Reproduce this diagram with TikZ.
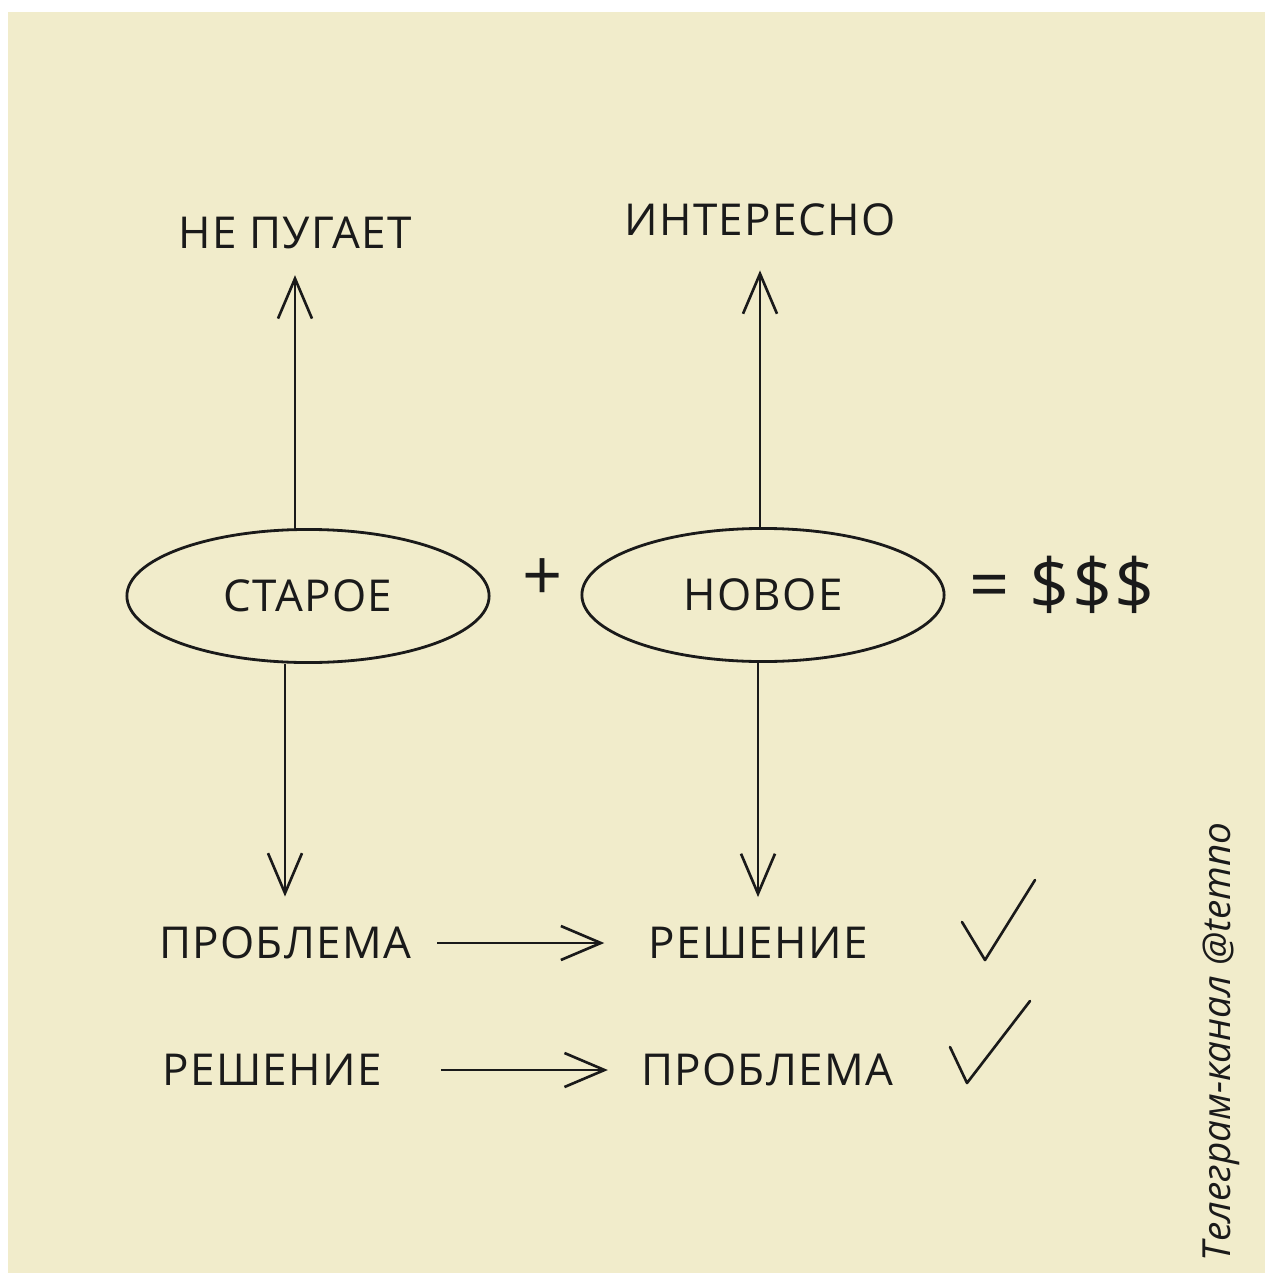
\documentclass[tikz,border=0pt]{standalone}
\usepackage{fontspec}
\setmainfont{Open Sans}
\newfontfamily\handfont[LetterSpace=3]{Open Sans}
\usetikzlibrary{shapes.geometric,arrows.meta,positioning}
\definecolor{paper}{RGB}{241,236,203}
\definecolor{ink}{RGB}{26,26,26}
\tikzset{
  word/.style={font=\handfont\fontsize{12.5}{12.5}\selectfont, text=ink, inner sep=1pt},
  oval/.style={draw=ink, ellipse, line width=0.8pt, minimum width=3.62cm,
    minimum height=1.33cm, font=\handfont\fontsize{12.5}{12.5}\selectfont, text=ink},
  barb/.style={draw=ink, line width=0.75pt, -{Straight Barb[length=4mm,width=3.4mm]}},
  tick/.style={draw=ink, line width=0.75pt, line join=round, line cap=round},
}
\begin{document}
\begin{tikzpicture}[x=0.01cm,y=-0.01cm]
\useasboundingbox (0,0) rectangle (1265,1273);
\fill[white] (0,0) rectangle (1265,1273);
\fill[paper] (8,12) rectangle (1265,1273);
% top words
\node[word] (nepugaet) at (295,233) {НЕ ПУГАЕТ};
\node[word] (interesno) at (760,220) {ИНТЕРЕСНО};
% the two ovals
\node[oval] (staroe) at (308,596) {СТАРОЕ};
\node[oval] (novoe) at (763,595) {НОВОЕ};
\node[word, font=\handfont\fontsize{20}{20}\selectfont] (plus) at (543,580) {+};
\node[word, font=\handfont\fontsize{20}{20}\selectfont] (dengi) at (1062,585) {= \$\$\$};
% up and down
\draw[barb, shorten >=0.22cm] (staroe.north -| nepugaet) -- (nepugaet);
\draw[barb, shorten >=0.3cm] (novoe.north -| interesno) -- (interesno);
\node[word] (problema1) at (285,943) {ПРОБЛЕМА};
\node[word] (reshenie1) at (758,943) {РЕШЕНИЕ};
\node[word] (reshenie2) at (272,1070) {РЕШЕНИЕ};
\node[word] (problema2) at (767,1070) {ПРОБЛЕМА};
\draw[barb, shorten >=0.26cm] (staroe.south -| problema1) -- (problema1);
\draw[barb, shorten >=0.26cm] (novoe.south -| reshenie1) -- (reshenie1);
% rows
\draw[barb, shorten <=0.22cm, shorten >=0.4cm] (problema1.east) -- (reshenie1.west);
\draw[barb, shorten <=0.55cm, shorten >=0.29cm] (reshenie2.east) -- (problema2.west);
% ticks
\draw[tick] (962,922) -- (985,960) -- (1035,880);
\draw[tick] (950,1047) -- (967,1083) -- (1030,1001);
\node[rotate=90, font=\itshape\fontsize{11}{11}\selectfont, text=ink] (kanal) at (1221,1042) {Телеграм-канал @temno};
\end{tikzpicture}
\end{document}
